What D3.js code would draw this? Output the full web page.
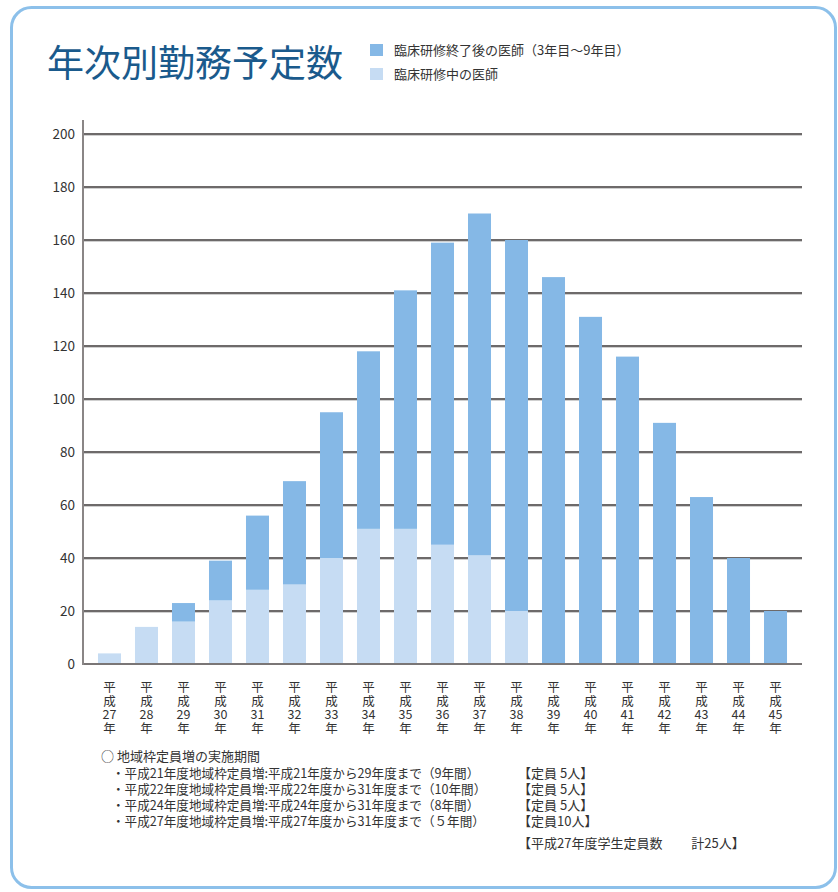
<!DOCTYPE html>
<html>
<head>
<meta charset="utf-8">
<script src="https://cdn.jsdelivr.net/npm/d3@7"></script>
<style>
  body { margin: 0; background: #fff; }
  svg text { font-family: "Noto Sans CJK JP", "Noto Sans", sans-serif; fill: #333; }
</style>
</head>
<body>
<svg id="chart" width="838" height="892"></svg>
<script>
// Chart data
const years = ['27', '28', '29', '30', '31', '32', '33', '34', '35', '36', '37', '38', '39', '40', '41', '42', '43', '44', '45'];
const trainees = [4, 14, 16, 24, 28, 30, 40, 51, 51, 45, 41, 20, 0, 0, 0, 0, 0, 0, 0];
const postTraining = [0, 0, 7, 15, 28, 39, 55, 67, 90, 114, 129, 140, 146, 131, 116, 91, 63, 40, 20];
const yTicks = [0, 20, 40, 60, 80, 100, 120, 140, 160, 180, 200];
const seriesNames = ['臨床研修終了後の医師（3年目〜9年目）', '臨床研修中の医師'];
const notes = [
  ['・平成21年度地域枠定員増:平成21年度から29年度まで（9年間）', '【定員 5人】'],
  ['・平成22年度地域枠定員増:平成22年度から31年度まで（10年間）', '【定員 5人】'],
  ['・平成24年度地域枠定員増:平成24年度から31年度まで（8年間）', '【定員 5人】'],
  ['・平成27年度地域枠定員増:平成27年度から31年度まで（５年間）', '【定員10人】']
];

const darkBlue = '#85b8e6';
const lightBlue = '#c6dcf3';

const svg = d3.select('#chart');

// frame
svg.append('rect')
  .attr('x', 11.5).attr('y', 7.5)
  .attr('width', 824).attr('height', 880)
  .attr('rx', 20).attr('ry', 20)
  .attr('fill', 'none')
  .attr('stroke', '#8cc0ea')
  .attr('stroke-width', 3);

// title
svg.append('text')
  .attr('x', 47).attr('y', 77)
  .attr('font-size', 37)
  .attr('font-weight', 400)
  .style('fill', '#1a5a8c')
  .text('年次別勤務予定数');

// legend
const legend = svg.append('g');
[darkBlue, lightBlue].forEach((c, i) => {
  legend.append('rect')
    .attr('x', 370).attr('y', 44 + i * 24)
    .attr('width', 13).attr('height', 12)
    .attr('fill', c);
  legend.append('text')
    .attr('x', 394).attr('y', 55 + i * 24)
    .attr('font-size', 13)
    .text(seriesNames[i]);
});

// scales
const x = d3.scaleBand()
  .domain(years)
  .range([83, 802])
  .paddingInner(0.378)
  .paddingOuter(0.405);

const y = d3.scaleLinear()
  .domain([0, 200])
  .range([664, 134]);

// gridlines
const grid = svg.append('g');
yTicks.filter(t => t > 0).forEach(t => {
  grid.append('line')
    .attr('x1', 83).attr('x2', 802)
    .attr('y1', y(t) + 1.5).attr('y2', y(t) + 1.5)
    .attr('stroke', '#cfcfcf').attr('stroke-width', 1);
  grid.append('line')
    .attr('x1', 83).attr('x2', 802)
    .attr('y1', y(t)).attr('y2', y(t))
    .attr('stroke', '#3d3838').attr('stroke-width', 1.3);
});

// stacked bars
const rows = years.map((yr, i) => ({ year: yr, trainee: trainees[i], post: postTraining[i] }));
const stack = d3.stack().keys(['trainee', 'post'])(rows);
const colors = { trainee: lightBlue, post: darkBlue };

svg.append('g')
  .selectAll('g')
  .data(stack)
  .join('g')
  .attr('fill', d => colors[d.key])
  .selectAll('rect')
  .data(d => d)
  .join('rect')
  .attr('x', d => x(d.data.year))
  .attr('y', d => y(d[1]))
  .attr('width', x.bandwidth())
  .attr('height', d => y(d[0]) - y(d[1]));

// axes
svg.append('line')
  .attr('x1', 83).attr('x2', 802)
  .attr('y1', y(0)).attr('y2', y(0))
  .attr('stroke', '#7a7676').attr('stroke-width', 2);
svg.append('line')
  .attr('x1', 83).attr('x2', 83)
  .attr('y1', 120).attr('y2', y(0) + 1)
  .attr('stroke', '#8a8686').attr('stroke-width', 2);

const yAxis = svg.append('g')
  .attr('transform', 'translate(75,0)')
  .call(d3.axisLeft(y).tickValues(yTicks).tickSize(0).tickPadding(0));
yAxis.select('.domain').remove();
yAxis.selectAll('text')
  .attr('font-size', 13.5)
  .attr('dy', '0.35em');

// x labels (vertical stacked)
const xl = svg.append('g');
years.forEach(yr => {
  const cx = x(yr) + x.bandwidth() / 2;
  ['平', '成', yr, '年'].forEach((s, i) => {
    xl.append('text')
      .attr('text-anchor', 'middle')
      .attr('font-size', 12.5)
      .attr('x', cx)
      .attr('y', 692 + i * 13.5)
      .text(s);
  });
});

// notes
const nt = svg.append('g');
nt.append('text').attr('x', 101).attr('y', 761).attr('font-size', 13).text('○ 地域枠定員増の実施期間');
notes.forEach((n, i) => {
  nt.append('text').attr('x', 112).attr('y', 778 + i * 16).attr('font-size', 12.6).text(n[0]);
  nt.append('text').attr('x', 518).attr('y', 778 + i * 16).attr('font-size', 13).text(n[1]);
});
nt.append('text').attr('x', 518).attr('y', 848).attr('font-size', 13)
  .attr('xml:space', 'preserve')
  .text('【平成27年度学生定員数　　 計25人】');
</script>
</body>
</html>
